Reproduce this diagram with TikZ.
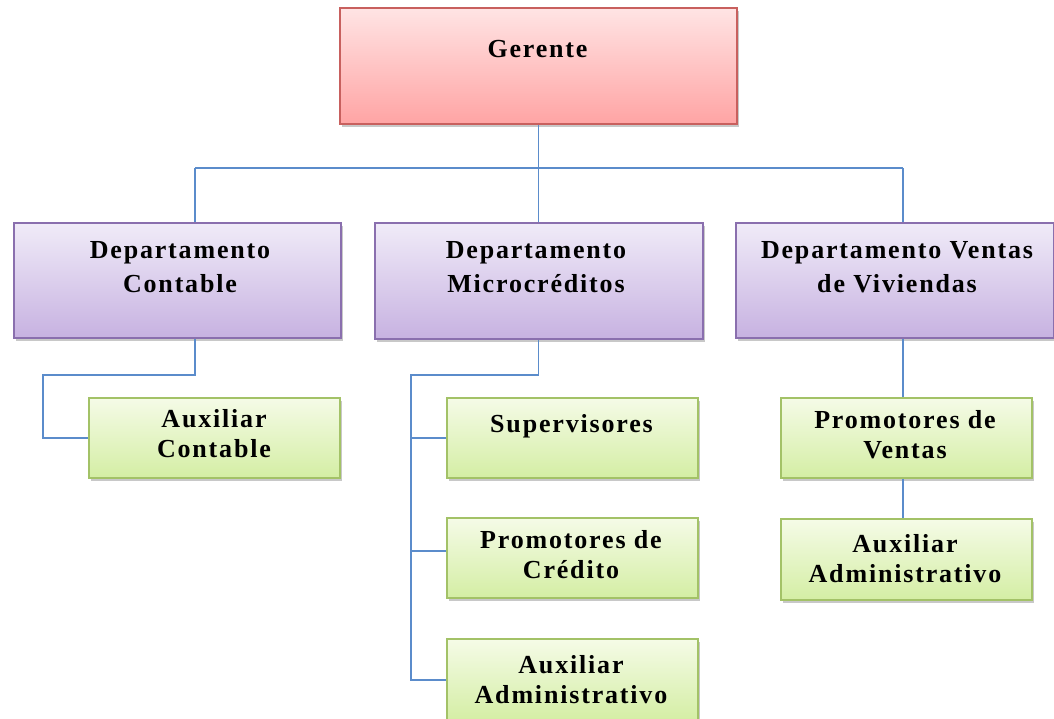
\documentclass[tikz,border=0pt]{standalone}
\usepackage{fontspec}
\setmainfont{Liberation Serif}[LetterSpace=7]
\usetikzlibrary{shadows,calc}
\definecolor{lineblue}{HTML}{5B8CCB}
\definecolor{redborder}{HTML}{C8605E}
\definecolor{redtop}{HTML}{FFE4E4}
\definecolor{redbot}{HTML}{FFA4A4}
\definecolor{purpborder}{HTML}{8A6FAE}
\definecolor{purptop}{HTML}{F0EBF8}
\definecolor{purpbot}{HTML}{C7B2E1}
\definecolor{grnborder}{HTML}{A3C267}
\definecolor{grntop}{HTML}{F5FBE7}
\definecolor{grnbot}{HTML}{D4EEA4}
\begin{document}
\begin{tikzpicture}[x=1pt,y=-1pt,
  box/.style={draw, line width=1.8pt, inner sep=0pt, anchor=north west,
    drop shadow={shadow xshift=2pt,shadow yshift=-3pt,opacity=0.3,fill=black!70}},
  redbox/.style={box, draw=redborder, top color=redtop, bottom color=redbot},
  purpbox/.style={box, draw=purpborder, top color=purptop, bottom color=purpbot},
  grnbox/.style={box, draw=grnborder, top color=grntop, bottom color=grnbot},
  lblp/.style={inner sep=0pt, anchor=base, align=center, font=\bfseries\fontsize{26}{34}\selectfont},
  lblg/.style={inner sep=0pt, anchor=base, align=center, font=\bfseries\fontsize{26}{30}\selectfont},
  conn/.style={draw=lineblue, line width=1.8pt}]
\useasboundingbox (0,0) rectangle (1054,718);
\clip (0,0) rectangle (1054,718);
\fill[white] (0,0) rectangle (1054,718);
% boxes
\node[redbox, minimum width=397pt, minimum height=116pt] (G) at (339,7) {};
\node[purpbox, minimum width=327pt, minimum height=115pt] (D1) at (13,222) {};
\node[purpbox, minimum width=328pt, minimum height=116pt] (D2) at (374,222) {};
\node[purpbox, minimum width=318pt, minimum height=115pt] (D3) at (735,222) {};
\node[grnbox, minimum width=251pt, minimum height=80pt] (A1) at (88,397) {};
\node[grnbox, minimum width=251pt, minimum height=80pt] (S) at (446,397) {};
\node[grnbox, minimum width=251pt, minimum height=80pt] (P) at (446,517) {};
\node[grnbox, minimum width=251pt, minimum height=82pt] (A2) at (446,638) {};
\node[grnbox, minimum width=251pt, minimum height=80pt] (PV) at (780,397) {};
\node[grnbox, minimum width=251pt, minimum height=81pt] (AV) at (780,518) {};
% labels (anchor base = last line)
\node[lblp] (tG) at (537.5,57) {Gerente};
\node[lblp] (tD1) at (180,292) {Departamento\\Contable};
\node[lblp] (tD2) at (536,292) {Departamento\\Microcréditos};
\node[lblp] (tD3) at (897,292) {Departamento Ventas\\de Viviendas};
\node[lblg] (tA1) at (214,457) {Auxiliar\\Contable};
\node[lblg] (tS) at (571.5,432) {Supervisores};
\node[lblg] (tP) at (571,578) {Promotores de\\Crédito};
\node[lblg] (tA2) at (571,703) {Auxiliar\\Administrativo};
\node[lblg] (tPV) at (905,458) {Promotores de\\Ventas};
\node[lblg] (tAV) at (905,582) {Auxiliar\\Administrativo};
% connectors
\coordinate (busY) at (0,168);
\coordinate (y1) at (0,375);
\coordinate (x1) at (195,0);
\coordinate (x3) at (903,0);
\coordinate (xL1) at (43,0);
\coordinate (xL2) at (411,0);
\draw[conn] (G.south) -- (G.south |- D2.north);
\draw[conn] (x1 |- busY) -- (x3 |- busY);
\draw[conn] (x1 |- busY) -- (D1.north -| x1);
\draw[conn] (x3 |- busY) -- (D3.north -| x3);
\draw[conn] (D1.south -| x1) -- (x1 |- y1) -- (xL1 |- y1) -- (xL1 |- A1.west) -- (A1.west);
\draw[conn] (D2.south -| G.south) -- (G.south |- y1) -- (xL2 |- y1) -- (xL2 |- A2.west) -- (A2.west);
\draw[conn] (xL2 |- S.west) -- (S.west);
\draw[conn] ([yshift=7pt]xL2 |- P.west) -- ([yshift=7pt]P.west);
\draw[conn] (D3.south -| x3) -- (PV.north -| x3);
\draw[conn] (PV.south -| x3) -- (AV.north -| x3);
\end{tikzpicture}
\end{document}
